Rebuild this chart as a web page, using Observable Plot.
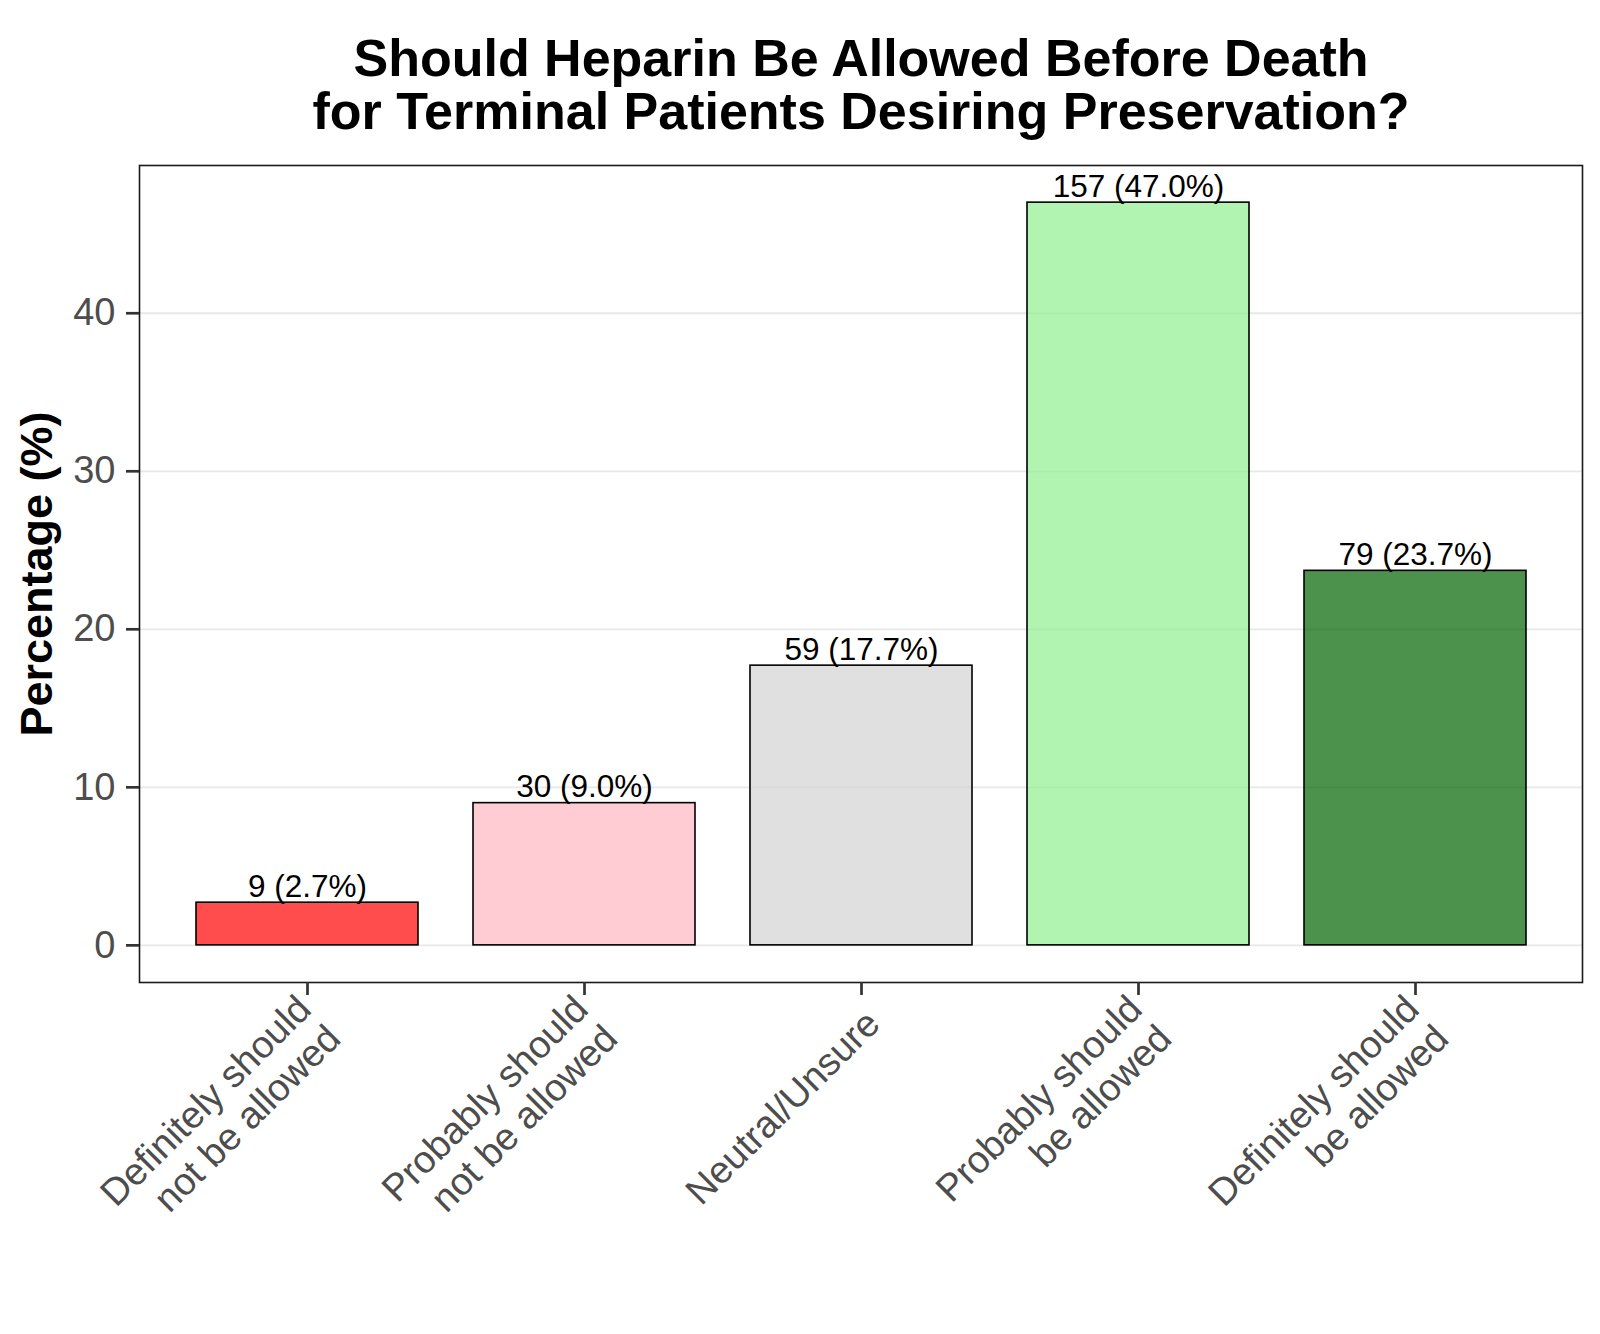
<!DOCTYPE html>
<html>
<head>
<meta charset="utf-8">
<script src="https://cdn.jsdelivr.net/npm/d3@7"></script>
<script src="https://cdn.jsdelivr.net/npm/@observablehq/plot@0.6"></script>
<style>
  html, body { margin: 0; padding: 0; background: white; }
</style>
</head>
<body>
<div id="chart"></div>
<script>
const categories = [
  "Definitely should\nnot be allowed",
  "Probably should\nnot be allowed",
  "Neutral/Unsure",
  "Probably should\nbe allowed",
  "Definitely should\nbe allowed"
];
const counts = [9, 30, 59, 157, 79];
const percents = [2.7, 9.0, 17.7, 47.0, 23.7];
const barColors = ["red", "lightpink", "lightgray", "lightgreen", "darkgreen"];
const yTicks = [0, 10, 20, 30, 40];
const titleText = "Should Heparin Be Allowed Before Death\nfor Terminal Patients Desiring Preservation?";
const yLabel = "Percentage (%)";

const data = categories.map((c, i) => ({
  cat: c,
  pct: percents[i],
  color: barColors[i],
  label: `${counts[i]} (${percents[i].toFixed(1)}%)`
}));

const font = "'Liberation Sans', Arial, Helvetica, sans-serif";

const chart = Plot.plot({
  width: 1600,
  height: 1334,
  marginTop: 165,
  marginRight: 18,
  marginBottom: 352,
  marginLeft: 139,
  style: { fontFamily: font, background: "white" },
  x: { type: "band", domain: categories, padding: 0.2, label: null },
  y: { domain: [-2.35, 49.35], label: null },
  color: { type: "identity" },
  marks: [
    Plot.gridY(yTicks, { stroke: "#E8E8E8", strokeOpacity: 1, strokeWidth: 1.8 }),
    Plot.barY(data, {
      x: "cat", y: "pct", fill: "color", fillOpacity: 0.7,
      stroke: "black", strokeWidth: 1.6
    }),
    Plot.text(data, {
      x: "cat", y: "pct", text: "label", lineAnchor: "bottom", dy: -6,
      fontSize: 31.5, fill: "black"
    }),
    Plot.frame({ stroke: "#1a1a1a", strokeWidth: 1.6 }),
    Plot.axisY(yTicks, { tickSize: 13, stroke: "#333333", strokeWidth: 2.7, fill: "none", label: null }),
    Plot.axisY(yTicks, { tickSize: 0, tickPadding: 24, fill: "#4D4D4D", fontSize: 38, label: null }),
    Plot.axisX({ tickSize: 13, stroke: "#333333", strokeWidth: 2.7, fill: "none", label: null }),
    Plot.axisX({
      tickSize: 0, tickPadding: 34, dx: 11, tickRotate: -45, fill: "#4D4D4D",
      fontSize: 38, lineHeight: 1.1, label: null, tickFormat: d => d
    }),
    Plot.text([yLabel], {
      frameAnchor: "left", dx: -102, rotate: -90, text: d => d, textAnchor: "middle",
      fontSize: 45, fontWeight: "bold", fill: "black", lineAnchor: "middle"
    }),
    Plot.text([titleText], {
      frameAnchor: "top", dy: -36.5, text: d => d, textAnchor: "middle",
      fontSize: 52, fontWeight: "bold", fill: "black", lineAnchor: "bottom", lineHeight: 1.02
    })
  ]
});

document.getElementById("chart").appendChild(chart);
</script>
</body>
</html>
